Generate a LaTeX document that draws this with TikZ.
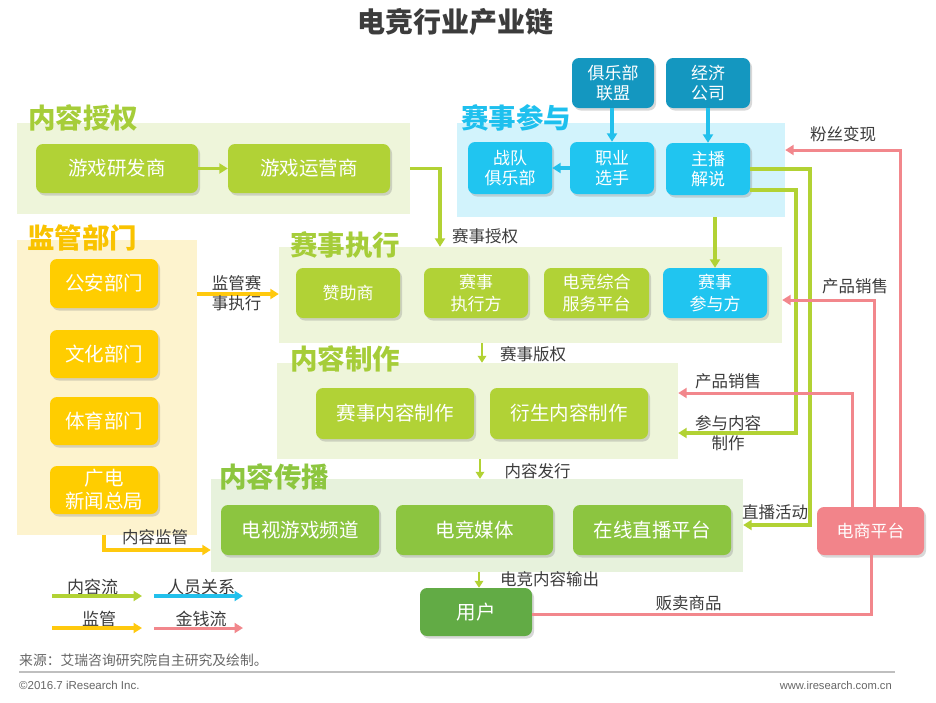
\documentclass[tikz,border=0pt]{standalone}
\usepackage{fontspec}
\setmainfont{Noto Sans CJK SC}
\newfontfamily\lat{Liberation Sans}
\usetikzlibrary{arrows.meta,shadows}
\definecolor{pgreen}{HTML}{EEF5DA}
\definecolor{pgreenb}{HTML}{E7F2DC}
\definecolor{pcyan}{HTML}{D2F3FC}
\definecolor{pyellow}{HTML}{FDF3CE}
\definecolor{tgreen}{HTML}{A6CD39}
\definecolor{tgreenb}{HTML}{8DC63F}
\definecolor{tcyan}{HTML}{1EC0EE}
\definecolor{tyellow}{HTML}{F9C300}
\definecolor{ngreen}{HTML}{B1D236}
\definecolor{ngreenb}{HTML}{8CC540}
\definecolor{nuser}{HTML}{62AB45}
\definecolor{ncyan}{HTML}{20C5F0}
\definecolor{nteal}{HTML}{1497C0}
\definecolor{nyellow}{HTML}{FFCD00}
\definecolor{npink}{HTML}{F2848A}
\definecolor{lgreen}{HTML}{B2D234}
\definecolor{lcyan}{HTML}{22C0EC}
\definecolor{lyellow}{HTML}{FFC90E}
\definecolor{lpink}{HTML}{F2878C}
\definecolor{txt}{HTML}{3C3C3C}
\begin{document}
\begin{tikzpicture}[x=1pt,y=-1pt,
  panel/.style={draw=none,inner sep=0pt},
  ptitle/.style={anchor=west,inner sep=0pt,font=\fontsize{27.5}{30}\selectfont\bfseries},
  box/.style={rounded corners=7pt,text=white,align=center,inner sep=0pt,
     font=\fontsize{17}{20}\selectfont,
     drop shadow={shadow xshift=2pt,shadow yshift=-2.5pt,opacity=0.3}},
  bigtxt/.style={font=\fontsize{19.5}{23}\selectfont},
  lbl/.style={inner sep=0pt,text=txt,align=center,font=\fontsize{16.5}{20}\selectfont},
  tip/.style={-{Triangle[length=8.5pt,width=10pt]}},
  garrow/.style={draw=lgreen,line width=3.2pt,tip},
  carrow/.style={draw=lcyan,line width=3.2pt,tip},
  yarrow/.style={draw=lyellow,line width=3.2pt,tip},
  parrow/.style={draw=lpink,line width=3pt,tip},
  pline/.style={draw=lpink,line width=3pt},
  sarrow/.style={draw=lgreen,line width=2.6pt,-{Triangle[length=7pt,width=8.5pt]}}
]
\fill[white] (0,0) rectangle (936,702);
\useasboundingbox (0,0) rectangle (936,702);

% title
\node[inner sep=0pt,text=txt,font=\fontsize{28}{30}\selectfont\bfseries] (title) at (455,22) {电竞行业产业链};

% panels
\node[panel,fill=pgreen,minimum width=393,minimum height=91] (pauth) at (213.5,168.5) {};
\node[panel,fill=pcyan,minimum width=328,minimum height=94] (ppart) at (621,170) {};
\node[panel,fill=pyellow,minimum width=180,minimum height=295] (preg) at (107,387.5) {};
\node[panel,fill=pgreen,minimum width=503,minimum height=96] (pexec) at (530.5,295) {};
\node[panel,fill=pgreen,minimum width=401,minimum height=96] (pmake) at (477.5,411) {};
\node[panel,fill=pgreenb,minimum width=532,minimum height=93] (pspread) at (477,525.5) {};

% panel titles
\node[ptitle,text=tgreen] (t1) at (28,118) {内容授权};
\node[ptitle,text=tcyan] (t2) at (461,118) {赛事参与};
\node[ptitle,text=tyellow] (t3) at (27,238) {监管部门};
\node[ptitle,text=tgreen] (t4) at (290,245) {赛事执行};
\node[ptitle,text=tgreen] (t5) at (290,359) {内容制作};
\node[ptitle,text=tgreenb] (t6) at (219,477) {内容传播};

% nodes: content licensing
\node[box,bigtxt,fill=ngreen,minimum width=162,minimum height=49] (yf) at (117,168.5) {游戏研发商};
\node[box,bigtxt,fill=ngreen,minimum width=162,minimum height=49] (yy) at (309,168.5) {游戏运营商};

% participation
\node[box,fill=nteal,minimum width=82,minimum height=50] (jlb) at (613,83) {俱乐部\\联盟};
\node[box,fill=nteal,minimum width=84,minimum height=50] (jj) at (708,83) {经济\\公司};
\node[box,fill=ncyan,minimum width=84,minimum height=52] (zd) at (510,168) {战队\\俱乐部};
\node[box,fill=ncyan,minimum width=84,minimum height=52] (zy) at (612,168) {职业\\选手};
\node[box,fill=ncyan,minimum width=84,minimum height=52] (zb) at (708,169) {主播\\解说};

% regulators
\node[box,bigtxt,fill=nyellow,minimum width=108,minimum height=49] (ga) at (104,283.5) {公安部门};
\node[box,bigtxt,fill=nyellow,minimum width=108,minimum height=48] (wh) at (104,354) {文化部门};
\node[box,bigtxt,fill=nyellow,minimum width=108,minimum height=48] (ty) at (104,421) {体育部门};
\node[box,bigtxt,fill=nyellow,minimum width=108,minimum height=48] (gd) at (104,490) {广电\\新闻总局};

% execution
\node[box,fill=ngreen,minimum width=104,minimum height=50] (zz) at (348,293) {赞助商};
\node[box,fill=ngreen,minimum width=104,minimum height=50,font=\fontsize{17}{21.5}\selectfont] (zx) at (476,293) {赛事\\执行方};
\node[box,fill=ngreen,minimum width=105,minimum height=50,font=\fontsize{17}{21.5}\selectfont] (dj) at (596.5,293) {电竞综合\\服务平台};
\node[box,fill=ncyan,minimum width=104,minimum height=50,font=\fontsize{17}{21.5}\selectfont] (cy) at (715,293) {赛事\\参与方};

% production
\node[box,bigtxt,fill=ngreen,minimum width=158,minimum height=51] (nz) at (395,413.5) {赛事内容制作};
\node[box,bigtxt,fill=ngreen,minimum width=158,minimum height=51] (ys) at (569,413.5) {衍生内容制作};

% distribution
\node[box,bigtxt,fill=ngreenb,minimum width=158,minimum height=50] (ds) at (300,530) {电视游戏频道};
\node[box,bigtxt,fill=ngreenb,minimum width=157,minimum height=50] (mt) at (474.5,530) {电竞媒体};
\node[box,bigtxt,fill=ngreenb,minimum width=158,minimum height=50] (zbp) at (652,530) {在线直播平台};

% user & e-commerce
\node[box,bigtxt,fill=nuser,minimum width=112,minimum height=48] (user) at (476,612) {用户};
\node[box,fill=npink,minimum width=107,minimum height=48] (ec) at (870.5,531) {电商平台};

% ---- connectors ----
\draw[garrow] (yf) -- (yy);
\coordinate (k1) at (440,0);
\draw[garrow] (pauth.east |- yy) -| (k1 |- pexec.north);
\node[lbl] (l1) at (485,236) {赛事授权};

\draw[carrow] (jlb.south -| zy) -- (zy.north);
\draw[carrow] (jj.south -| zb) -- (zb.north);
\draw[carrow] (zy.west |- zd) -- (zd.east);

\draw[garrow] (ppart.south -| cy) -- (cy.north);

\coordinate (r1) at (810,525);
\draw[garrow] (zb.east) -| (r1) -- (r1 -| pspread.east);
\node[lbl] (l2) at (775,512) {直播活动};
\coordinate (r2) at (796,433);
\draw[garrow] ([yshift=-21pt]zb.east) -| (r2) -- (r2 -| pmake.east);
\node[lbl,font=\fontsize{16.5}{20}\selectfont] (l3) at (728,433) {参与内容\\制作};

% pink money flows
\coordinate (q1) at (900,150);
\draw[parrow] (ec.north -| q1) -- (q1) -- (q1 -| ppart.east);
\node[lbl] (l4) at (843,134) {粉丝变现};
\coordinate (q2) at (874,300);
\draw[parrow] (ec.north -| q2) -- (q2) -- (q2 -| pexec.east);
\node[lbl] (l5) at (855,286) {产品销售};
\coordinate (q3) at (852,393);
\draw[parrow] (ec.north -| q3) -- (q3) -- (q3 -| pmake.east);
\node[lbl] (l6) at (728,381) {产品销售};
\coordinate (q4) at (871,614);
\draw[pline] (ec.south -| q4) -- (q4) -- (q4 -| user.east);
\node[lbl] (l7) at (688.5,603) {贩卖商品};

% regulation
\coordinate (m1) at (0,294);
\draw[yarrow] (m1 -| preg.east) -- (m1 -| pexec.west);
\node[lbl] (l8) at (236.5,293) {监管赛\\事执行};
\coordinate (m2) at (104,550);
\draw[yarrow] (preg.south -| m2) -- (m2) -- (m2 -| pspread.west);
\node[lbl] (l9) at (155,537) {内容监管};

% small down arrows
\coordinate (d1) at (482,0);
\draw[sarrow] (pexec.south -| d1) -- (pmake.north -| d1);
\node[lbl] (l10) at (533,354) {赛事版权};
\coordinate (d2) at (480,0);
\draw[sarrow] (pmake.south -| d2) -- (pspread.north -| d2);
\node[lbl] (l11) at (537.5,471) {内容发行};
\coordinate (d3) at (479,0);
\draw[sarrow] (pspread.south -| d3) -- (user.north -| d3);
\node[lbl] (l12) at (549.5,579) {电竞内容输出};

% legend
\node[lbl,font=\fontsize{17}{20}\selectfont] (g1) at (92.5,587) {内容流};
\coordinate (ga1) at (52,596); \coordinate (gb1) at (142,596);
\draw[garrow] (ga1) -- (gb1);
\node[lbl,font=\fontsize{17}{20}\selectfont] (g2) at (201,587) {人员关系};
\coordinate (ga2) at (154,596); \coordinate (gb2) at (243,596);
\draw[carrow] (ga2) -- (gb2);
\node[lbl,font=\fontsize{17}{20}\selectfont] (g3) at (99,619) {监管};
\coordinate (ga3) at (52,628); \coordinate (gb3) at (142,628);
\draw[yarrow] (ga3) -- (gb3);
\node[lbl,font=\fontsize{17}{20}\selectfont] (g4) at (201,619) {金钱流};
\coordinate (ga4) at (154,628); \coordinate (gb4) at (243,628);
\draw[parrow] (ga4) -- (gb4);

% footer
\node[anchor=west,inner sep=0pt,text=black!60,font=\fontsize{13.8}{16}\selectfont] (src) at (19,660) {来源：艾瑞咨询研究院自主研究及绘制。};
\coordinate (fl) at (19,672); \coordinate (fr) at (895,672);
\draw[black!25,line width=1.2pt] (fl) -- (fr);
\node[anchor=west,inner sep=0pt,text=black!60,font=\lat\fontsize{11.5}{13}\selectfont] (cp) at (19,685) {©2016.7 iResearch Inc.};
\node[anchor=east,inner sep=0pt,text=black!60,font=\lat\fontsize{11.2}{13}\selectfont] (www) at (892,685) {www.iresearch.com.cn};
\end{tikzpicture}
\end{document}
